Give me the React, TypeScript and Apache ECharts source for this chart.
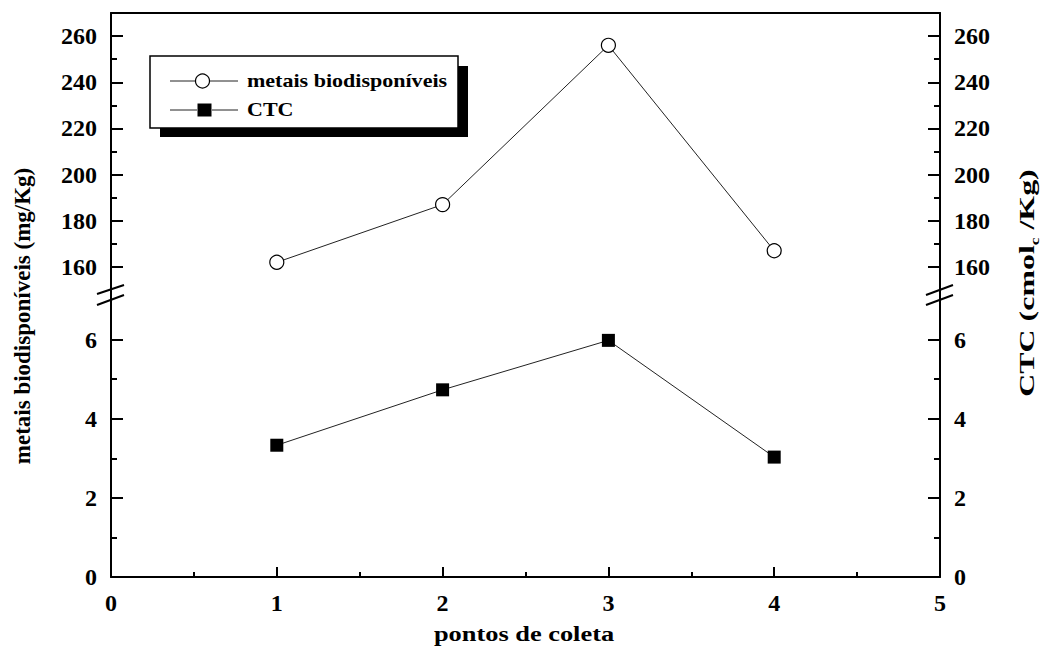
import React, { useEffect, useRef } from "react";
import * as echarts from "echarts";

const points = [1, 2, 3, 4];
const metais = [162, 187, 256, 167];
const ctc = [3.33, 4.73, 5.98, 3.03];

const upperMajor = [160, 180, 200, 220, 240, 260];
const upperMinor = [170, 190, 210, 230, 250];
const lowerMajor = [0, 2, 4, 6];
const lowerMinor = [1, 3, 5];

const FONT = "'Liberation Serif', 'Times New Roman', serif";

function yAxes(gridIndex: number, position: string, min: number, max: number, major: number[], minor: number[]) {
  const base = {
    type: "value",
    gridIndex,
    position,
    min,
    max,
    offset: 0,
    splitLine: { show: false },
  };
  return [
    {
      ...base,
      axisLine: { show: true, onZero: false, lineStyle: { color: "#000", width: 2 } },
      axisTick: { show: true, inside: true, length: 6, customValues: minor, lineStyle: { color: "#000", width: 2 } },
      axisLabel: {
        show: true,
        customValues: major,
        margin: 14,
        color: "#000",
        fontSize: 24,
        fontWeight: "bold",
        fontFamily: FONT,
      },
    },
    {
      ...base,
      axisLine: { show: false },
      axisTick: { show: true, inside: true, length: 12, customValues: major, lineStyle: { color: "#000", width: 2 } },
      axisLabel: { show: false },
    },
  ];
}

export default function App() {
  const ref = useRef<HTMLDivElement>(null);
  useEffect(() => {
    const chart = echarts.init(ref.current!, null, { renderer: "svg" });
    const lineStyle = { stroke: "#000", lineWidth: 2 };
    const thin = { stroke: "#222", lineWidth: 1 };
    const textBase = { fontFamily: FONT, fontWeight: "bold", fill: "#000" };
    chart.setOption({
      animation: false,
      backgroundColor: "#fff",
      grid: [
        { left: 111, right: 102, top: 13, height: 277 },
        { left: 111, right: 102, top: 300, height: 277 },
      ],
      xAxis: [
        {
          type: "value",
          gridIndex: 0,
          position: "top",
          min: 0,
          max: 5,
          interval: 1,
          axisLine: { show: true, onZero: false, lineStyle: { color: "#000", width: 2 } },
          axisTick: { show: false },
          axisLabel: { show: false },
          splitLine: { show: false },
        },
        {
          type: "value",
          gridIndex: 1,
          position: "bottom",
          min: 0,
          max: 5,
          interval: 1,
          axisLine: { show: true, onZero: false, lineStyle: { color: "#000", width: 2 } },
          axisTick: { show: true, inside: true, length: 10, lineStyle: { color: "#000", width: 2 } },
          minorTick: { show: true, splitNumber: 2, length: 5, lineStyle: { color: "#000", width: 2 } },
          axisLabel: { show: true, margin: 14, color: "#000", fontSize: 24, fontWeight: "bold", fontFamily: FONT },
          splitLine: { show: false },
          minorSplitLine: { show: false },
        },
      ],
      yAxis: [
        ...yAxes(0, "left", 150, 270, upperMajor, upperMinor),
        ...yAxes(0, "right", 150, 270, upperMajor, upperMinor),
        ...yAxes(1, "left", 0, 7, lowerMajor, lowerMinor),
        ...yAxes(1, "right", 0, 7, lowerMajor, lowerMinor),
      ],
      series: [
        {
          name: "metais biodisponíveis",
          type: "line",
          xAxisIndex: 0,
          yAxisIndex: 0,
          data: points.map((p, i) => [p, metais[i]]),
          symbol: "circle",
          symbolSize: 14,
          showAllSymbol: true,
          lineStyle: { color: "#222", width: 1 },
          itemStyle: { color: "#fff", borderColor: "#000", borderWidth: 1.2 },
          z: 5,
        },
        {
          name: "CTC",
          type: "line",
          xAxisIndex: 1,
          yAxisIndex: 4,
          data: points.map((p, i) => [p, ctc[i]]),
          symbol: "rect",
          symbolSize: 13,
          lineStyle: { color: "#222", width: 1 },
          itemStyle: { color: "#000", borderColor: "#000", borderWidth: 0 },
          z: 5,
        },
      ],
      graphic: [
        // axis continuation through the break gap
        { type: "line", shape: { x1: 111, y1: 289, x2: 111, y2: 301 }, style: lineStyle, z: 10 },
        { type: "line", shape: { x1: 940, y1: 289, x2: 940, y2: 301 }, style: lineStyle, z: 10 },
        // break marks
        { type: "line", shape: { x1: 97, y1: 294, x2: 124, y2: 285 }, style: lineStyle, z: 10 },
        { type: "line", shape: { x1: 97, y1: 305, x2: 124, y2: 295 }, style: lineStyle, z: 10 },
        { type: "line", shape: { x1: 926, y1: 295, x2: 953, y2: 285 }, style: lineStyle, z: 10 },
        { type: "line", shape: { x1: 926, y1: 305, x2: 953, y2: 295 }, style: lineStyle, z: 10 },
        // legend
        { type: "rect", shape: { x: 160, y: 66, width: 308, height: 71 }, style: { fill: "#000" }, z: 20 },
        { type: "rect", shape: { x: 150, y: 56, width: 308, height: 72 }, style: { fill: "#fff", stroke: "#000", lineWidth: 1.5 }, z: 21 },
        { type: "line", shape: { x1: 170, y1: 81, x2: 195, y2: 81 }, style: thin, z: 22 },
        { type: "circle", shape: { cx: 202.5, cy: 81, r: 7 }, style: { fill: "#fff", stroke: "#000", lineWidth: 1.2 }, z: 22 },
        { type: "line", shape: { x1: 210, y1: 81, x2: 238, y2: 81 }, style: thin, z: 22 },
        {
          type: "text",
          x: 247,
          y: 81,
          scaleX: 1.16,
          style: { ...textBase, text: "metais biodisponíveis", fontSize: 19, textAlign: "left", textVerticalAlign: "middle", align: "left", verticalAlign: "middle" },
          z: 22,
        },
        { type: "line", shape: { x1: 170, y1: 110, x2: 197, y2: 110 }, style: thin, z: 22 },
        { type: "rect", shape: { x: 197.5, y: 103.5, width: 14, height: 13 }, style: { fill: "#000" }, z: 22 },
        { type: "line", shape: { x1: 212, y1: 110, x2: 238, y2: 110 }, style: thin, z: 22 },
        {
          type: "text",
          x: 247,
          y: 110,
          scaleX: 1.16,
          style: { ...textBase, text: "CTC", fontSize: 19, textAlign: "left", textVerticalAlign: "middle", align: "left", verticalAlign: "middle" },
          z: 22,
        },
        // axis titles
        {
          type: "text",
          x: 524,
          y: 633,
          scaleX: 1.2,
          style: { ...textBase, text: "pontos de coleta", fontSize: 22, textAlign: "center", textVerticalAlign: "middle", align: "center", verticalAlign: "middle" },
          z: 22,
        },
        {
          type: "text",
          x: 22,
          y: 316,
          rotation: Math.PI / 2,
          style: { ...textBase, text: "metais biodisponíveis (mg/Kg)", fontSize: 23, textAlign: "center", textVerticalAlign: "middle", align: "center", verticalAlign: "middle" },
          z: 22,
        },
        {
          type: "text",
          x: 1027,
          y: 283,
          rotation: Math.PI / 2,
          scaleX: 1.45,
          style: {
            ...textBase,
            text: "{n|CTC (cmol}{sub|c}{n| /Kg)}",
            fontSize: 22,
            textAlign: "center",
            textVerticalAlign: "middle",
            align: "center",
            verticalAlign: "middle",
            rich: {
              n: { fontSize: 22, fontWeight: "bold", fontFamily: FONT, fill: "#000" },
              sub: { fontSize: 12, fontWeight: "bold", fontFamily: FONT, fill: "#000", padding: [16, 0, 0, 0] },
            },
          },
          z: 22,
        },
      ],
    });
    return () => chart.dispose();
  }, []);
  return (
    <div
      ref={ref}
      style={{ position: "fixed", left: 0, top: 0, width: 1042, height: 653, background: "#fff" }}
    />
  );
}
